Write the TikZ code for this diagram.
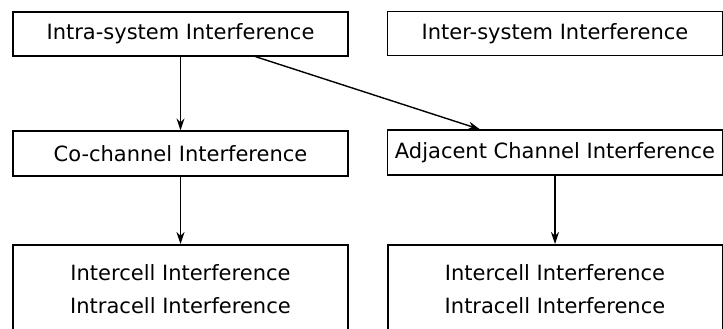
\documentclass[tikz,border=0pt]{standalone}
\usepackage{fontspec}
\setmainfont{DejaVu Sans}
\usetikzlibrary{calc,positioning,arrows.meta}

\tikzset{
	box/.style={draw, line width=1.3pt, minimum width=335pt, minimum height=44pt, inner sep=0pt, font=\fontsize{21}{33}\selectfont},
	bigbox/.style={box, line width=2pt, minimum height=88pt, align=center, anchor=north},
	arr/.style={line width=1.4pt, -{Stealth[length=12pt,width=8pt]}}
}

\begin{document}
\begin{tikzpicture}[x=1pt,y=-1pt]
		\clip (0,0) rectangle (723,329);
		\node[box] (intra) at (180.5,34) {Intra-system Interference};
		\node[box] (inter) at (555,33.5) {Inter-system Interference};
		\node[box, minimum height=45pt] (cochan) at (180.5,153.5) {Co-channel Interference};
		\node[box, minimum height=45pt] (adjchan) at (555,152.5) {Adjacent Channel Interference};
		\node[bigbox] (cells1) at (180.5,244) {Intercell Interference\\Intracell Interference};
		\node[bigbox] (cells2) at (555,244) {Intercell Interference\\Intracell Interference};
		\draw[arr] (intra.south) -- (cochan.north);
		\draw[arr] ($(intra.south)+(75,0)$) -- ($(adjchan.north)+(-75,0)$);
		\draw[arr] (cochan.south) -- (cells1.north);
		\draw[arr] (adjchan.south) -- (cells2.north);
\end{tikzpicture}
\end{document}
